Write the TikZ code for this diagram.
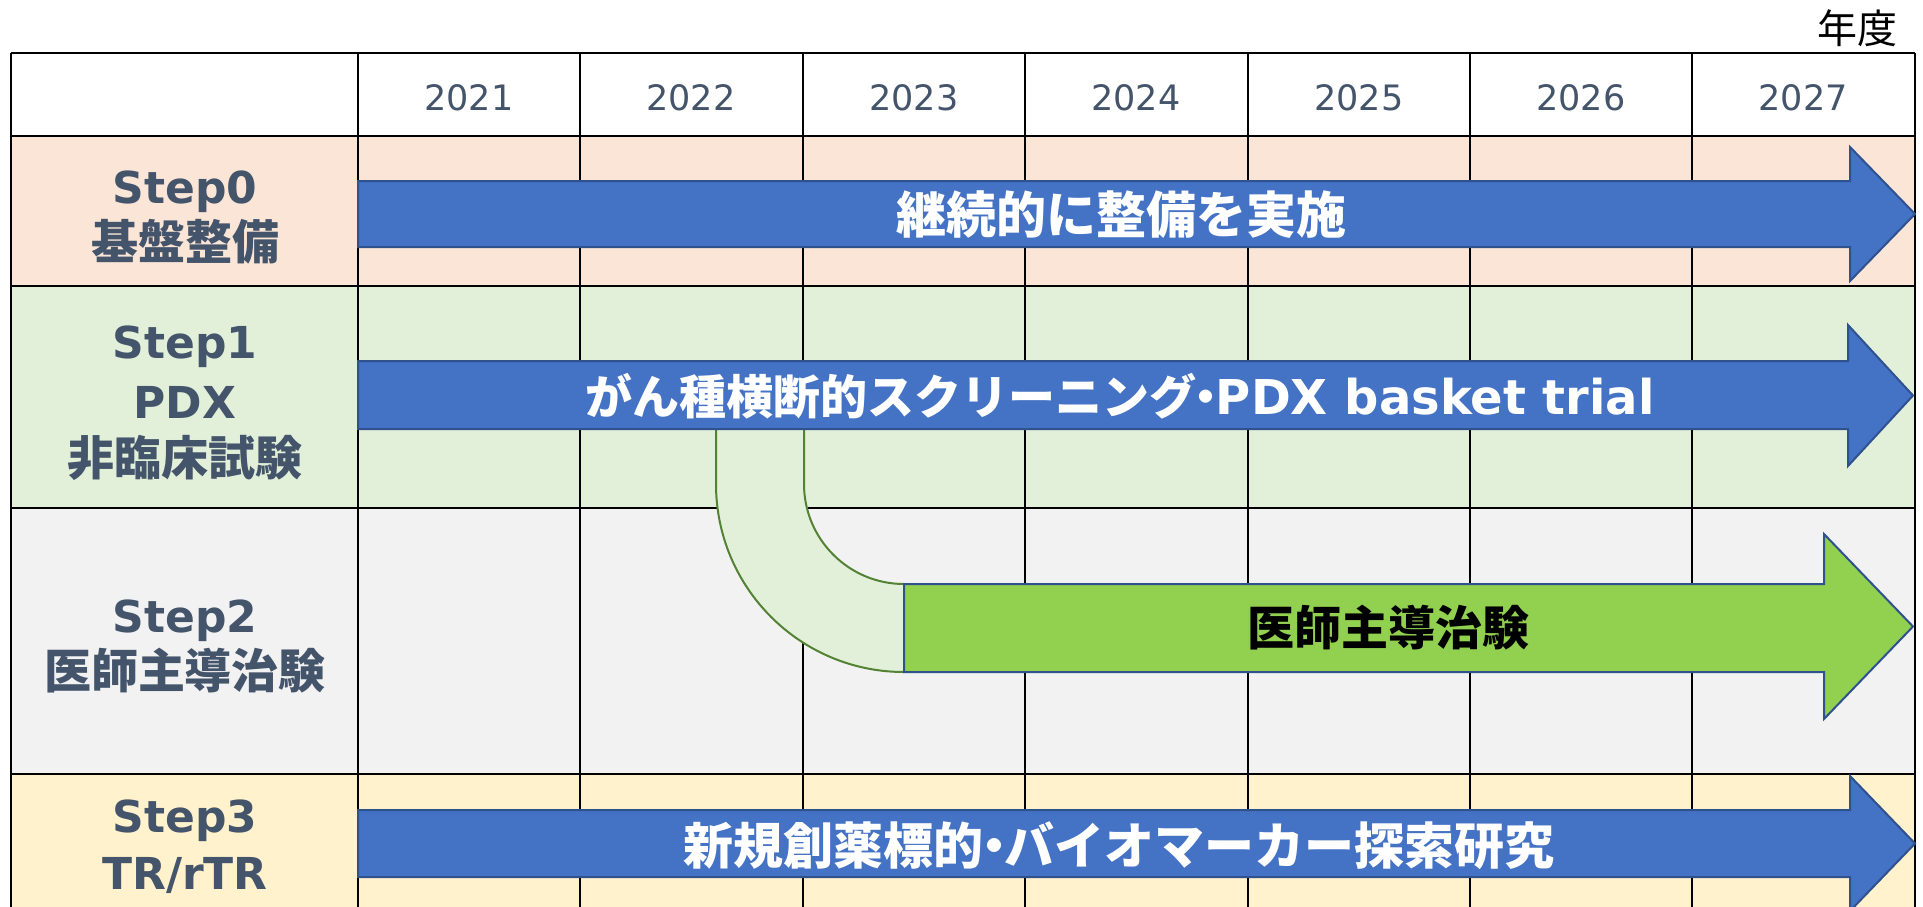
\documentclass[tikz,border=0pt]{standalone}
\usepackage{fontspec}
\newfontfamily\jp{Noto Sans CJK JP}
\newfontfamily\lat{DejaVu Sans}
\definecolor{lbl}{HTML}{44546A}
\definecolor{rowa}{HTML}{FBE5D6}
\definecolor{rowb}{HTML}{E2F0D9}
\definecolor{rowc}{HTML}{F2F2F2}
\definecolor{rowd}{HTML}{FFF2CC}
\definecolor{arrblue}{HTML}{4472C4}
\definecolor{arredge}{HTML}{2F528F}
\definecolor{arrgreen}{HTML}{92D050}
\definecolor{bandedge}{HTML}{548235}
\newcommand{\narrowdot}{\kern-0.29em・\kern-0.29em}
\begin{document}
\begin{tikzpicture}[x=1pt,y=-1pt,
  gridline/.style={draw=black,line width=2.5pt},
  bluearrow/.style={fill=arrblue,draw=arredge,line width=2pt,line join=miter},
  greenarrow/.style={fill=arrgreen,draw=arredge,line width=2pt,line join=miter},
  bandfill/.style={fill=rowb},
  bandline/.style={draw=bandedge,line width=2pt},
  lablat/.style={text=lbl,inner sep=0pt,anchor=base,font=\lat\bfseries\fontsize{44}{44}\selectfont},
  labjp/.style={text=lbl,inner sep=0pt,anchor=base,font=\jp\bfseries\fontsize{47}{47}\selectfont},
  yearlbl/.style={text=lbl,inner sep=0pt,anchor=base,font=\lat\fontsize{35}{35}\selectfont},
  arrtext/.style={text=white,inner sep=0pt,anchor=base},
]
\useasboundingbox (0,0) rectangle (1923,906);
\clip (0,0) rectangle (1923,906);

% row fills
\fill[white] (11,53) rectangle (1915,136);
\fill[rowa] (11,136) rectangle (1915,286);
\fill[rowb] (11,286) rectangle (1915,508);
\fill[rowc] (11,508) rectangle (1915,774);
\fill[rowd] (11,774) rectangle (1915,930);

% grid
\foreach \yy in {53,136,286,508,774}
  \draw[gridline] (11,\yy) -- (1915,\yy);
\foreach \xx in {11,358,580,803,1025,1248,1470,1692,1915}
  \draw[gridline] (\xx,53) -- (\xx,930);

% curved band from step1 to step2
\fill[bandfill] (716,420) -- (716,484) .. controls (716,587.8) and (800.2,672) .. (904,672)
  -- (904,584) .. controls (848.8,584) and (804,539.2) .. (804,484) -- (804,420) -- cycle;
\draw[bandline] (716,420) -- (716,484) .. controls (716,587.8) and (800.2,672) .. (904,672);
\draw[bandline] (804,420) -- (804,484) .. controls (804,539.2) and (848.8,584) .. (904,584);

% arrows
\path[bluearrow] (358,181) -- (1850,181) -- (1850,147) -- (1915,214) -- (1850,281) -- (1850,247) -- (358,247) -- cycle;
\path[bluearrow] (358,361) -- (1848,361) -- (1848,325) -- (1913,395.5) -- (1848,466) -- (1848,429) -- (358,429) -- cycle;
\path[greenarrow] (904,584) -- (1824,584) -- (1824,534) -- (1913,626.5) -- (1824,719) -- (1824,672) -- (904,672) -- cycle;
\path[bluearrow] (358,810) -- (1850,810) -- (1850,776) -- (1915,843.5) -- (1850,911) -- (1850,877) -- (358,877) -- cycle;

% unit label
\node[inner sep=0pt,anchor=base,font=\jp\fontsize{40}{40}\selectfont] (unit) at (1857,43) {年度};

% years
\node[yearlbl] (y21) at (469,110) {2021};
\node[yearlbl] (y22) at (691,110) {2022};
\node[yearlbl] (y23) at (914,110) {2023};
\node[yearlbl] (y24) at (1136,110) {2024};
\node[yearlbl] (y25) at (1359,110) {2025};
\node[yearlbl] (y26) at (1581,110) {2026};
\node[yearlbl] (y27) at (1803,110) {2027};

% row labels
\node[lablat] (s0a) at (185,203) {Step0};
\node[labjp]  (s0b) at (185,259) {基盤整備};
\node[lablat] (s1a) at (185,358) {Step1};
\node[lablat] (s1b) at (185,418) {PDX};
\node[labjp]  (s1c) at (185,475) {非臨床試験};
\node[lablat] (s2a) at (185,632) {Step2};
\node[labjp]  (s2b) at (185,688) {医師主導治験};
\node[lablat] (s3a) at (185,832) {Step3};
\node[lablat] (s3b) at (185,889) {TR/rTR};

% arrow texts
\node[arrtext,font=\jp\bfseries\fontsize{50}{50}\selectfont] (t0) at (1121,233) {継続的に整備を実施};
\node[arrtext] (t1) at (1120,414) {{\jp\bfseries\fontsize{47}{47}\selectfont がん種横断的スクリーニング\narrowdot}{\lat\bfseries\fontsize{48}{48}\selectfont PDX basket trial}};
\node[arrtext,text=black,font=\jp\bfseries\fontsize{47}{47}\selectfont] (t2) at (1388,645) {医師主導治験};
\node[arrtext,font=\jp\bfseries\fontsize{50}{50}\selectfont] (t3) at (1119,864) {新規創薬標的\narrowdot バイオマーカー探索研究};
\end{tikzpicture}
\end{document}
